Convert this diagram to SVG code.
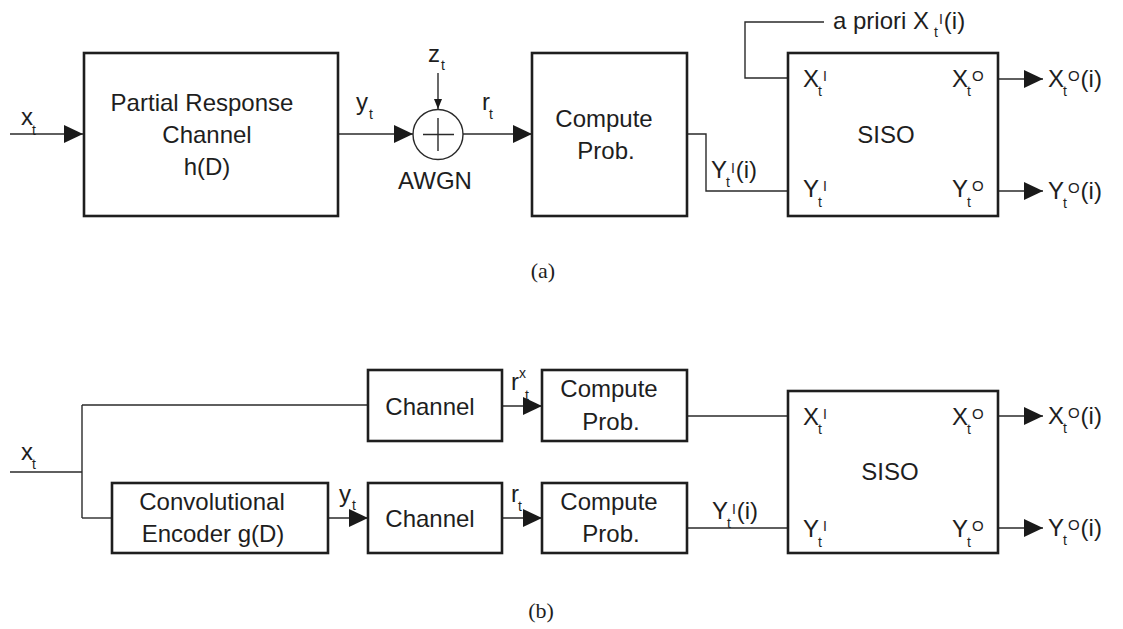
<svg xmlns="http://www.w3.org/2000/svg" width="1123" height="629" viewBox="0 0 1123 629">
<style>
.box{fill:#fff;stroke:#1e1e1e;stroke-width:2.6}
.ln{fill:none;stroke:#2a2a2a;stroke-width:1.4}
.t{font-family:"Liberation Sans",Arial,sans-serif;font-size:24px;fill:#1e1e1e}
.c{text-anchor:middle}
.s{font-size:14px}
.o{font-size:15px}
.cap{font-family:"Liberation Serif","Times New Roman",serif;font-size:22px;fill:#1e1e1e;text-anchor:middle}
</style>
<defs>
<marker id="ah" markerUnits="userSpaceOnUse" viewBox="0 0 19 18" markerWidth="19" markerHeight="18" refX="19" refY="9" orient="auto">
<path d="M0,0 L19,9 L0,18 Z" fill="#1a1a1a"/>
</marker>
<marker id="ahs" markerUnits="userSpaceOnUse" viewBox="0 0 10 8" markerWidth="10" markerHeight="8" refX="10" refY="4" orient="auto">
<path d="M0,0 L10,4 L0,8 Z" fill="#1a1a1a"/>
</marker>
</defs>
<rect width="1123" height="629" fill="#fff"/>

<g id="connectors">
<path class="ln" d="M10,134 H83" marker-end="url(#ah)"/>
<path class="ln" d="M338,134 H413" marker-end="url(#ah)"/>
<path class="ln" d="M438,73 V109" marker-end="url(#ahs)"/>
<path class="ln" d="M463,134 H532" marker-end="url(#ah)"/>
<path class="ln" d="M687,134 H706 V191 H788"/>
<path class="ln" d="M824,22 H745 V78 H788"/>
<path class="ln" d="M998,79 H1043" marker-end="url(#ah)"/>
<path class="ln" d="M998,191 H1043" marker-end="url(#ah)"/>
<path class="ln" d="M10,472 H82"/>
<path class="ln" d="M82,405 V518"/>
<path class="ln" d="M82,405 H368"/>
<path class="ln" d="M82,518 H112"/>
<path class="ln" d="M328,518 H368" marker-end="url(#ah)"/>
<path class="ln" d="M502,406 H542" marker-end="url(#ah)"/>
<path class="ln" d="M502,518 H542" marker-end="url(#ah)"/>
<path class="ln" d="M687,416 H788"/>
<path class="ln" d="M687,528 H788"/>
<path class="ln" d="M998,416 H1043" marker-end="url(#ah)"/>
<path class="ln" d="M998,528 H1043" marker-end="url(#ah)"/>
</g>

<g id="labels">
<text class="t" x="21" y="125">x<tspan class="s" dx="-1" dy="10">t</tspan></text>
<text class="t" x="356" y="110">y<tspan class="s" dx="1" dy="9">t</tspan></text>
<text class="t" x="428" y="62">z<tspan class="s" dx="1" dy="8">t</tspan></text>
<text class="t" x="482" y="110">r<tspan class="s" dx="-1" dy="9">t</tspan></text>
<text class="t" x="711" y="178">Y<tspan class="s" dx="-1" dy="9">t</tspan><tspan class="s" dx="1" dy="-14">I</tspan><tspan dx="1" dy="5">(i)</tspan></text>
<text class="t" x="833" y="29">a priori X<tspan class="s" dx="5" dy="8">t</tspan><tspan class="s" dx="1" dy="-13">I</tspan><tspan dx="1" dy="5">(i)</tspan></text>
<text class="t" x="1048" y="87">X<tspan class="s" dx="-1" dy="9">t</tspan><tspan class="o" dx="1" dy="-15">O</tspan><tspan dx="1" dy="6">(i)</tspan></text>
<text class="t" x="1048" y="199">Y<tspan class="s" dx="-1" dy="9">t</tspan><tspan class="o" dx="1" dy="-15">O</tspan><tspan dx="1" dy="6">(i)</tspan></text>
<text class="cap" x="543" y="278">(a)</text>
<text class="t" x="21" y="460">x<tspan class="s" dx="-1" dy="9">t</tspan></text>
<text class="t" x="339" y="502">y<tspan class="s" dx="1" dy="8">t</tspan></text>
<text class="t" x="511" y="390">r<tspan class="s" dy="-12">x</tspan><tspan class="s" dx="-1" dy="22">t</tspan></text>
<text class="t" x="511" y="502">r<tspan class="s" dx="-1" dy="9">t</tspan></text>
<text class="t" x="712" y="519">Y<tspan class="s" dx="-1" dy="9">t</tspan><tspan class="s" dx="1" dy="-14">I</tspan><tspan dx="1" dy="5">(i)</tspan></text>
<text class="t" x="1048" y="424">X<tspan class="s" dx="-1" dy="9">t</tspan><tspan class="o" dx="1" dy="-15">O</tspan><tspan dx="1" dy="6">(i)</tspan></text>
<text class="t" x="1048" y="536">Y<tspan class="s" dx="-1" dy="9">t</tspan><tspan class="o" dx="1" dy="-15">O</tspan><tspan dx="1" dy="6">(i)</tspan></text>
<text class="cap" x="541" y="618">(b)</text>
</g>

<g id="partial-response">
<rect class="box" x="84" y="53" width="254" height="163"/>
<text class="t c" x="202" y="111">Partial Response</text>
<text class="t c" x="207" y="143">Channel</text>
<text class="t c" x="207" y="175">h(D)</text>
</g>

<g id="awgn">
<circle cx="438" cy="134.5" r="25" fill="#fff" stroke="#2a2a2a" stroke-width="1.4"/>
<path class="ln" d="M423,134.5 H454 M438,118 V151"/>
<text class="t c" x="435" y="189">AWGN</text>
</g>

<g id="compute-a">
<rect class="box" x="532" y="53" width="155" height="163"/>
<text class="t c" x="604" y="127">Compute</text>
<text class="t c" x="606" y="159">Prob.</text>
</g>

<g id="siso-a">
<rect class="box" x="788" y="53" width="210" height="163"/>
<text class="t c" x="886" y="143">SISO</text>
<text class="t" x="803" y="87">X<tspan class="s" dx="-1" dy="9">t</tspan><tspan class="s" dx="1" dy="-15">I</tspan></text>
<text class="t" x="952" y="87">X<tspan class="s" dx="-1" dy="9">t</tspan><tspan class="o" dx="1" dy="-15">O</tspan></text>
<text class="t" x="803" y="197">Y<tspan class="s" dx="-1" dy="10">t</tspan><tspan class="s" dx="1" dy="-16">I</tspan></text>
<text class="t" x="952" y="197">Y<tspan class="s" dx="-1" dy="10">t</tspan><tspan class="o" dx="1" dy="-16">O</tspan></text>
</g>

<g id="channel-top">
<rect class="box" x="368" y="370" width="134" height="71"/>
<text class="t c" x="430" y="415">Channel</text>
</g>

<g id="conv-encoder">
<rect class="box" x="112" y="483" width="216" height="70"/>
<text class="t c" x="212" y="510">Convolutional</text>
<text class="t c" x="213" y="542">Encoder g(D)</text>
</g>

<g id="channel-bottom">
<rect class="box" x="368" y="483" width="134" height="70"/>
<text class="t c" x="430" y="527">Channel</text>
</g>

<g id="compute-b-top">
<rect class="box" x="542" y="370" width="145" height="71"/>
<text class="t c" x="609" y="397">Compute</text>
<text class="t c" x="611" y="430">Prob.</text>
</g>

<g id="compute-b-bottom">
<rect class="box" x="542" y="483" width="145" height="70"/>
<text class="t c" x="609" y="510">Compute</text>
<text class="t c" x="611" y="542">Prob.</text>
</g>

<g id="siso-b">
<rect class="box" x="788" y="391" width="210" height="162"/>
<text class="t c" x="890" y="480">SISO</text>
<text class="t" x="803" y="425">X<tspan class="s" dx="-1" dy="9">t</tspan><tspan class="s" dx="1" dy="-15">I</tspan></text>
<text class="t" x="952" y="425">X<tspan class="s" dx="-1" dy="9">t</tspan><tspan class="o" dx="1" dy="-15">O</tspan></text>
<text class="t" x="803" y="537">Y<tspan class="s" dx="-1" dy="10">t</tspan><tspan class="s" dx="1" dy="-16">I</tspan></text>
<text class="t" x="952" y="537">Y<tspan class="s" dx="-1" dy="10">t</tspan><tspan class="o" dx="1" dy="-16">O</tspan></text>
</g>
</svg>
